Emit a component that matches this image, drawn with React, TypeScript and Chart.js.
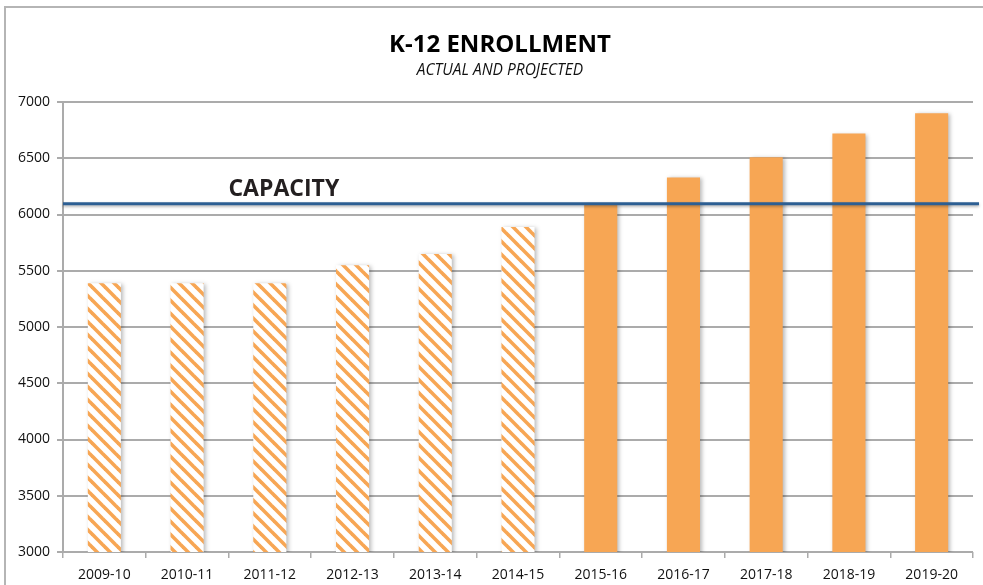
import React, { useEffect, useRef } from "react";
import { Chart, registerables } from "chart.js";

Chart.register(...registerables);

const CATEGORIES = [
  "2009-10", "2010-11", "2011-12", "2012-13", "2013-14", "2014-15",
  "2015-16", "2016-17", "2017-18", "2018-19", "2019-20",
];
const ENROLLMENT = [5390, 5390, 5390, 5550, 5650, 5890, 6090, 6330, 6510, 6720, 6900];
const IS_ACTUAL = [true, true, true, true, true, true, false, false, false, false, false];
const CAPACITY = 6095;
const CAPACITY_LABEL = "CAPACITY";
const TITLE = "K-12 ENROLLMENT";
const SUBTITLE = "ACTUAL AND PROJECTED";
const Y_MIN = 3000;
const Y_MAX = 7000;
const Y_STEP = 500;

const ORANGE = "#F7A654";
const CAP_COLOR = "#2D5F93";
const GRID = "#ABABAB";
const FONT = "'Open Sans', sans-serif";

function makeHatch(color: string) {
  const size = 13;
  const c = document.createElement("canvas");
  c.width = size;
  c.height = size;
  const g = c.getContext("2d")!;
  g.fillStyle = "#ffffff";
  g.fillRect(0, 0, size, size);
  g.strokeStyle = color;
  g.lineWidth = 3.6;
  g.lineCap = "square";
  for (let k = -1; k <= 1; k++) {
    g.beginPath();
    g.moveTo(k * size - 2, -2);
    g.lineTo(k * size + size + 2, size + 2);
    g.stroke();
  }
  return g.createPattern(c, "repeat")!;
}

export default function App() {
  const ref = useRef<HTMLCanvasElement | null>(null);

  useEffect(() => {
    document.body.style.margin = "0";
    const canvas = ref.current!;
    const hatch = makeHatch(ORANGE);

    const decorPlugin = {
      id: "decor",
      beforeDraw(chart: any) {
        const ctx = chart.ctx;
        ctx.save();
        ctx.strokeStyle = "#B5B5B5";
        ctx.lineWidth = 2;
        ctx.beginPath();
        ctx.moveTo(5, chart.height);
        ctx.lineTo(5, 7);
        ctx.lineTo(chart.width, 7);
        ctx.stroke();
        ctx.fillStyle = "#000";
        ctx.textAlign = "center";
        ctx.textBaseline = "alphabetic";
        ctx.font = `bold 24px ${FONT}`;
        ctx.fillText(TITLE, 500, 52);
        ctx.font = `italic 15.5px ${FONT}`;
        ctx.fillStyle = "#111";
        ctx.fillText(SUBTITLE, 500, 75);
        ctx.restore();
      },
      beforeDatasetDraw(chart: any) {
        const ctx = chart.ctx;
        ctx.save();
        ctx.shadowColor = "rgba(0,0,0,0.28)";
        ctx.shadowBlur = 4;
        ctx.shadowOffsetX = 2;
        ctx.shadowOffsetY = 1;
      },
      afterDatasetDraw(chart: any) {
        chart.ctx.restore();
      },
      afterDatasetsDraw(chart: any) {
        const ctx = chart.ctx;
        const y = chart.scales.y.getPixelForValue(CAPACITY);
        const x = chart.scales.x;
        const area = chart.chartArea;
        ctx.save();
        ctx.shadowColor = "rgba(0,0,0,0.3)";
        ctx.shadowBlur = 3;
        ctx.shadowOffsetY = 1.5;
        ctx.strokeStyle = CAP_COLOR;
        ctx.lineWidth = 3;
        ctx.beginPath();
        ctx.moveTo(area.left, y);
        ctx.lineTo(area.right + 6, y);
        ctx.stroke();
        ctx.restore();
        ctx.save();
        const lx = (x.getPixelForValue(1) + x.getPixelForValue(2)) / 2;
        ctx.fillStyle = "#231F20";
        ctx.font = `bold 23px ${FONT}`;
        ctx.textAlign = "left";
        ctx.textBaseline = "alphabetic";
        ctx.fillText(CAPACITY_LABEL, lx, y - 8);
        ctx.restore();
      },
    };

    const chart = new Chart(canvas, {
      type: "bar",
      data: {
        labels: CATEGORIES,
        datasets: [
          {
            label: "Enrollment",
            data: ENROLLMENT,
            backgroundColor: IS_ACTUAL.map((a) => (a ? hatch : ORANGE)) as any,
            borderWidth: 0,
            barPercentage: 0.4,
            categoryPercentage: 1,
          },
        ],
      },
      options: {
        responsive: false,
        animation: false,
        layout: { padding: { top: 102, right: 10, left: 0, bottom: 0 } },
        plugins: {
          legend: { display: false },
          title: { display: false },
          tooltip: { enabled: false },
        },
        scales: {
          x: {
            offset: true,
            grid: {
              display: true,
              drawOnChartArea: false,
              drawTicks: true,
              tickLength: 6,
              color: GRID,
              lineWidth: 1.5,
              offset: true,
            },
            border: { display: false },
            ticks: {
              color: "#111",
              font: { family: FONT, size: 14 },
              padding: 9,
              maxRotation: 0,
            },
            afterFit(scale: any) {
              scale.height = 33;
            },
          },
          y: {
            min: Y_MIN,
            max: Y_MAX,
            ticks: {
              stepSize: Y_STEP,
              color: "#111",
              font: { family: FONT, size: 14 },
              padding: 7,
              callback: (v: any) => String(v),
            },
            grid: {
              color: GRID,
              lineWidth: 2,
              tickLength: 6,
              drawTicks: true,
            },
            border: { display: true, color: GRID, width: 2 },
            afterFit(scale: any) {
              scale.width = 63;
            },
          },
        },
      },
      plugins: [decorPlugin],
    });
    return () => chart.destroy();
  }, []);

  return (
    <div style={{ width: 983, height: 585, background: "#fff" }}>
      <canvas ref={ref} width={983} height={585} style={{ display: "block" }} />
    </div>
  );
}
